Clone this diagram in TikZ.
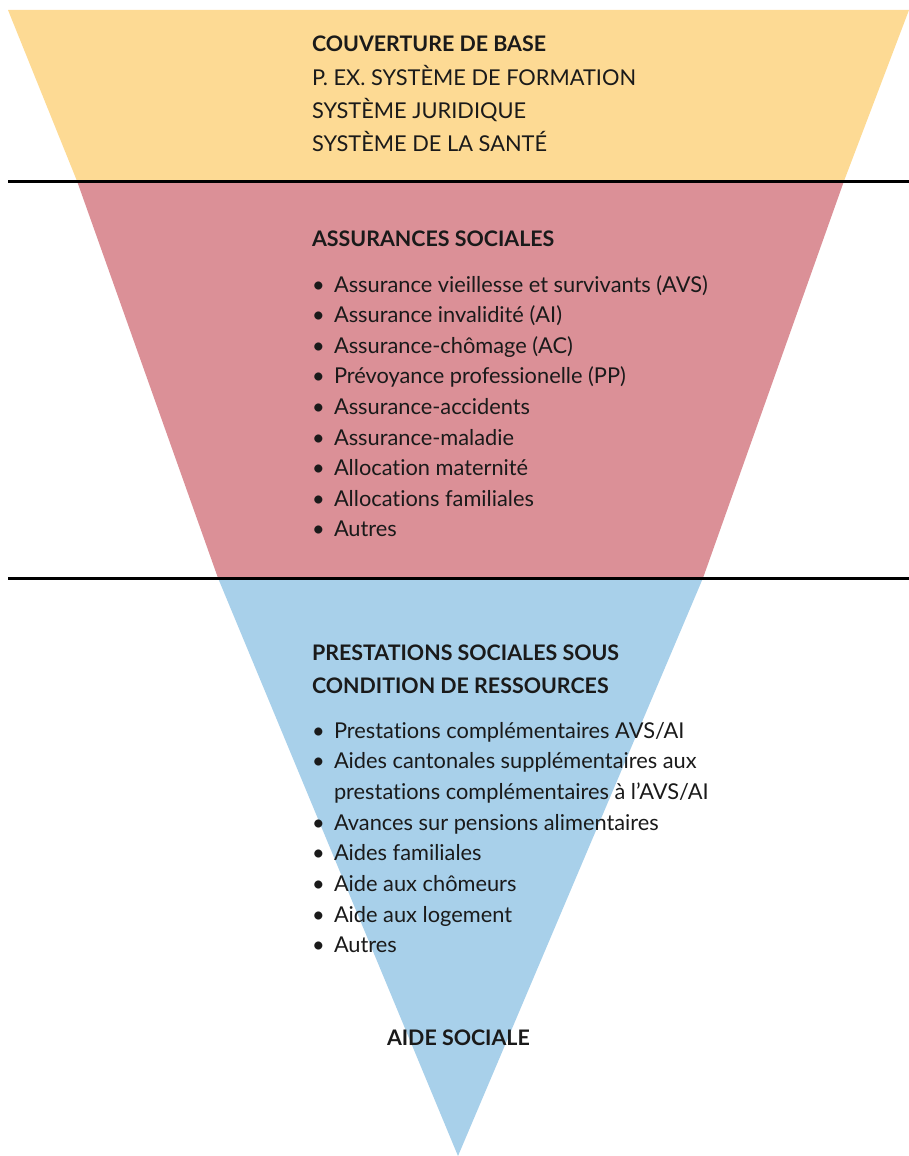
\documentclass[tikz,border=0pt]{standalone}
\usepackage{fontspec}
\setmainfont{Lato}[Ligatures=NoCommon]
\definecolor{cyellow}{HTML}{FDDA94}
\definecolor{cred}{HTML}{DB9097}
\definecolor{cblue}{HTML}{A8D0EA}
\definecolor{ctext}{HTML}{1A1A1A}
\tikzset{
  txt/.style={anchor=base west, inner sep=0pt, outer sep=0pt, text=ctext, font=\fontsize{21.8}{24}\selectfont},
  head/.style={txt, font=\fontsize{21.4}{24}\selectfont\bfseries},
  sep/.style={line width=3pt, black}
}
\newcommand{\bul}{\makebox[22pt][l]{\raisebox{0pt}{•}}}
\begin{document}
\begin{tikzpicture}[x=1pt,y=-1pt]
\useasboundingbox (0,0) rectangle (909,1156);
% bands
\fill[cyellow] (8,10) -- (909,10) -- (844,181) -- (77,181) -- cycle;
\fill[cred] (77,181) -- (844,181) -- (703,578) -- (218,578) -- cycle;
\fill[cblue] (218,578) -- (703,578) -- (458,1156) -- cycle;
% separators
\coordinate (l1a) at (8,181); \coordinate (l1b) at (909,181);
\coordinate (l2a) at (8,578); \coordinate (l2b) at (909,578);
\draw[sep] (l1a) -- (l1b);
\draw[sep] (l2a) -- (l2b);
% top
\node[head] (t0) at (312,52) {COUVERTURE DE BASE};
\node[txt] (t1) at (312,85) {P. EX. SYSTÈME DE FORMATION};
\node[txt] (t2) at (312,118) {SYSTÈME JURIDIQUE};
\node[txt] (t3) at (312,151) {SYSTÈME DE LA SANTÉ};
% assurances
\node[head] (a0) at (312,246) {ASSURANCES SOCIALES};
\node[txt] (a1) at (312,292) {\bul Assurance vieillesse et survivants (AVS)};
\node[txt] (a2) at (312,322.6) {\bul Assurance invalidité (AI)};
\node[txt] (a3) at (312,353.2) {\bul Assurance-chômage (AC)};
\node[txt] (a4) at (312,383.8) {\bul Prévoyance professionelle (PP)};
\node[txt] (a5) at (312,414.4) {\bul Assurance-accidents};
\node[txt] (a6) at (312,445) {\bul Assurance-maladie};
\node[txt] (a7) at (312,475.6) {\bul Allocation maternité};
\node[txt] (a8) at (312,506.2) {\bul Allocations familiales};
\node[txt] (a9) at (312,536.8) {\bul Autres};
% prestations
\node[head] (p0) at (312,660) {PRESTATIONS SOCIALES SOUS};
\node[head] (p0b) at (312,693) {CONDITION DE RESSOURCES};
\node[txt] (p1) at (312,738) {\bul Prestations complémentaires AVS/AI};
\node[txt] (p2) at (312,768.7) {\bul Aides cantonales supplémentaires aux};
\node[txt] (p2b) at (334,799.4) {prestations complémentaires à l’AVS/AI};
\node[txt] (p3) at (312,830.1) {\bul Avances sur pensions alimentaires};
\node[txt] (p4) at (312,860.8) {\bul Aides familiales};
\node[txt] (p5) at (312,891.5) {\bul Aide aux chômeurs};
\node[txt] (p6) at (312,922.2) {\bul Aide aux logement};
\node[txt] (p7) at (312,952.9) {\bul Autres};
% aide sociale
\node[head] (s0) at (387,1045) {AIDE SOCIALE};
\end{tikzpicture}
\end{document}
